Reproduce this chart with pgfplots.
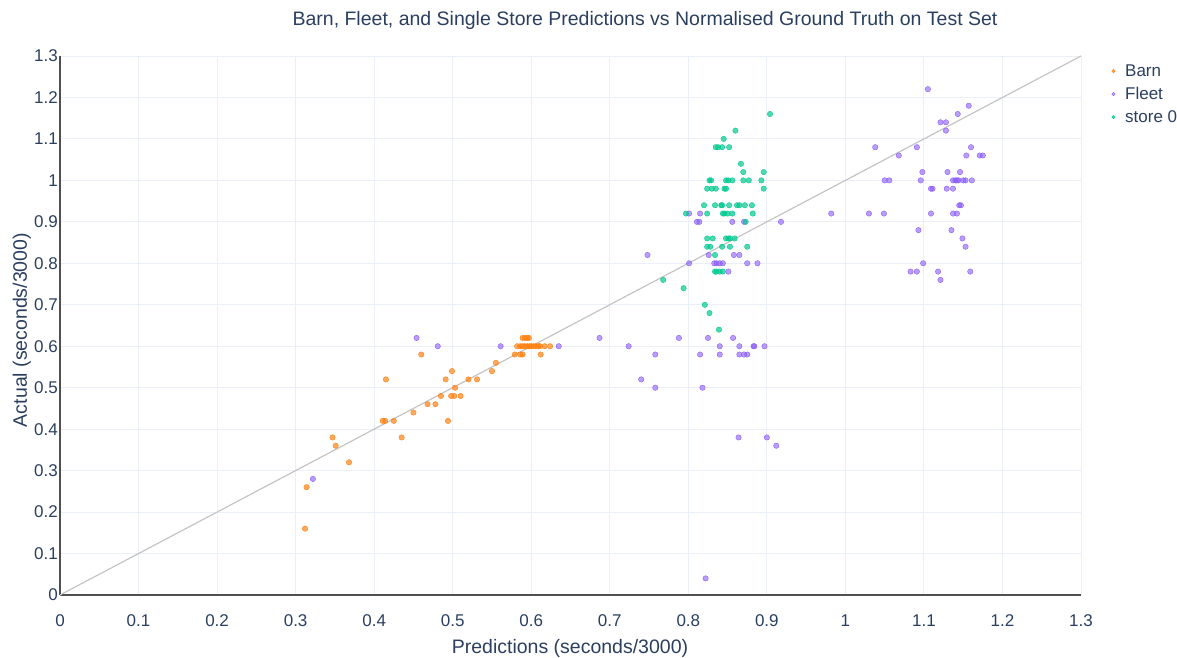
\documentclass[border=0pt]{standalone}
\usepackage{pgfplots}
\pgfplotsset{compat=1.18}
\usepackage{fontspec}
\setmainfont{Liberation Sans}
\definecolor{textc}{HTML}{2A3F5F}
\definecolor{gridc}{HTML}{EBF0F8}
\definecolor{axisc}{HTML}{505050}
\definecolor{barnc}{HTML}{FF7F0E}
\definecolor{fleetc}{HTML}{8A5CF8}
\definecolor{storec}{HTML}{00C98F}
\definecolor{diagc}{HTML}{C4C4C4}
\begin{document}
\begin{tikzpicture}
\begin{axis}[
  scale only axis, width=1021pt, height=539pt,
  xmin=0, xmax=1.3, ymin=0, ymax=1.3,
  xtick={0,0.1,0.2,0.3,0.4,0.5,0.6,0.7,0.8,0.9,1,1.1,1.2,1.3},
  ytick={0,0.1,0.2,0.3,0.4,0.5,0.6,0.7,0.8,0.9,1,1.1,1.2,1.3},
  grid=major, major grid style={draw=gridc, line width=0.9pt},
  axis x line*=bottom, axis y line*=left,
  axis line style={-, draw=axisc, line width=1.6pt},
  tick style={draw=none},
  /pgf/number format/assume math mode=true,
  ticklabel style={font=\fontsize{17}{17}\selectfont, text=textc},
  xticklabel style={anchor=base, yshift=-31pt},
  yticklabel style={anchor=east, inner sep=0pt, xshift=-2pt},
  legend style={at={(1.027,0.992)}, anchor=north west, draw=none, fill=none,
    font=\fontsize{17}{17}\selectfont, text=textc, row sep=5.5pt,
    /tikz/every odd column/.append style={column sep=8pt}},
  legend cell align=left,
  every axis plot/.append style={only marks, mark=*, mark size=2.7pt},
]
\addplot[diagc, line width=1.2pt, no marks, sharp plot, forget plot] coordinates {(0,0) (1.3,1.3)};
% Barn
\addplot[barnc, mark options={draw=none, fill=barnc, fill opacity=0.68}, legend image post style={mark size=1.7pt}] coordinates {
(0.312,0.16)(0.314,0.26)(0.347,0.38)(0.351,0.36)(0.368,0.32)(0.411,0.42)(0.414,0.42)(0.415,0.52)
(0.425,0.42)(0.435,0.38)(0.450,0.44)(0.460,0.58)(0.468,0.46)(0.478,0.46)(0.485,0.48)(0.491,0.52)
(0.494,0.42)(0.499,0.54)(0.498,0.48)(0.502,0.48)(0.503,0.50)(0.510,0.48)(0.520,0.52)(0.531,0.52)
(0.550,0.54)(0.555,0.56)(0.579,0.58)(0.586,0.58)(0.589,0.58)(0.612,0.58)
(0.589,0.62)(0.592,0.62)(0.595,0.62)(0.597,0.62)
(0.582,0.60)(0.586,0.60)(0.589,0.60)(0.592,0.60)(0.595,0.60)(0.598,0.60)(0.600,0.60)(0.603,0.60)
(0.606,0.60)(0.609,0.60)(0.611,0.60)(0.617,0.60)(0.624,0.60)
};
\addlegendentry{Barn}
% Fleet
\addplot[fleetc, mark options={draw=none, fill=fleetc, fill opacity=0.6}, legend image post style={mark size=1.7pt}] coordinates {
(0.322,0.28)(0.454,0.62)(0.481,0.60)(0.561,0.60)(0.635,0.60)(0.687,0.62)(0.724,0.60)(0.758,0.58)
(0.740,0.52)(0.758,0.50)(0.788,0.62)
(0.801,0.92)(0.815,0.92)(0.982,0.92)(0.811,0.90)(0.814,0.90)(0.856,0.90)(0.871,0.90)(0.918,0.90)
(0.748,0.82)(0.826,0.82)(0.858,0.82)(0.865,0.82)
(0.801,0.80)(0.833,0.80)(0.836,0.80)(0.840,0.80)(0.844,0.80)(0.875,0.80)(0.888,0.80)
(0.851,0.78)
(0.825,0.62)(0.857,0.62)
(0.840,0.60)(0.865,0.60)(0.883,0.60)(0.884,0.60)(0.897,0.60)
(0.815,0.58)(0.840,0.58)(0.865,0.58)(0.871,0.58)(0.875,0.58)
(0.818,0.50)(0.864,0.38)(0.900,0.38)(0.912,0.36)(0.822,0.04)
(1.105,1.22)(1.157,1.18)(1.143,1.16)(1.121,1.14)(1.128,1.14)(1.128,1.12)
(1.038,1.08)(1.091,1.08)(1.160,1.08)
(1.068,1.06)(1.154,1.06)(1.171,1.06)(1.175,1.06)
(1.098,1.02)(1.130,1.02)(1.146,1.02)
(1.050,1.00)(1.056,1.00)(1.096,1.00)(1.137,1.00)(1.140,1.00)(1.142,1.00)(1.144,1.00)(1.150,1.00)(1.153,1.00)(1.161,1.00)
(1.109,0.98)(1.111,0.98)(1.129,0.98)(1.137,0.98)
(1.145,0.94)(1.147,0.94)
(1.030,0.92)(1.049,0.92)(1.109,0.92)(1.137,0.92)(1.142,0.92)
(1.093,0.88)(1.135,0.88)(1.149,0.86)(1.153,0.84)(1.099,0.80)
(1.083,0.78)(1.091,0.78)(1.118,0.78)(1.159,0.78)(1.121,0.76)
};
\addlegendentry{Fleet}
% store 0
\addplot[storec, mark options={draw=none, fill=storec, fill opacity=0.7}, legend image post style={mark size=1.7pt}] coordinates {
(0.904,1.16)(0.860,1.12)(0.845,1.10)(0.835,1.08)(0.838,1.08)(0.843,1.08)(0.852,1.08)(0.867,1.04)
(0.870,1.02)(0.896,1.02)
(0.827,1.00)(0.829,1.00)(0.848,1.00)(0.851,1.00)(0.856,1.00)(0.870,1.00)(0.877,1.00)(0.893,1.00)
(0.824,0.98)(0.830,0.98)(0.835,0.98)(0.846,0.98)(0.848,0.98)(0.896,0.98)
(0.820,0.94)(0.834,0.94)(0.842,0.94)(0.843,0.94)(0.852,0.94)(0.862,0.94)(0.865,0.94)(0.872,0.94)(0.881,0.94)
(0.797,0.92)(0.824,0.92)(0.844,0.92)(0.846,0.92)(0.850,0.92)(0.856,0.92)(0.882,0.92)
(0.873,0.90)
(0.824,0.86)(0.831,0.86)(0.848,0.86)(0.851,0.86)(0.853,0.86)(0.859,0.86)
(0.824,0.84)(0.828,0.84)(0.843,0.84)(0.853,0.84)(0.875,0.84)
(0.834,0.82)
(0.834,0.78)(0.836,0.78)(0.840,0.78)(0.844,0.78)
(0.768,0.76)(0.794,0.74)(0.821,0.70)(0.827,0.68)(0.839,0.64)
};
\addlegendentry{store 0}
\end{axis}
\node[anchor=base, text=textc, font=\fontsize{19.5}{19.5}\selectfont] at (585pt,569pt) {Barn, Fleet, and Single Store Predictions vs Normalised Ground Truth on Test Set};
\node[anchor=base, text=textc, font=\fontsize{19.5}{19.5}\selectfont] at (510pt,-58pt) {Predictions (seconds/3000)};
\node[anchor=base, rotate=90, text=textc, font=\fontsize{19.5}{19.5}\selectfont] at (-33pt,265pt) {Actual (seconds/3000)};
\pgfresetboundingbox
\path[use as bounding box] (-60pt,-63pt) rectangle (1117pt,595pt);
\end{tikzpicture}
\end{document}
